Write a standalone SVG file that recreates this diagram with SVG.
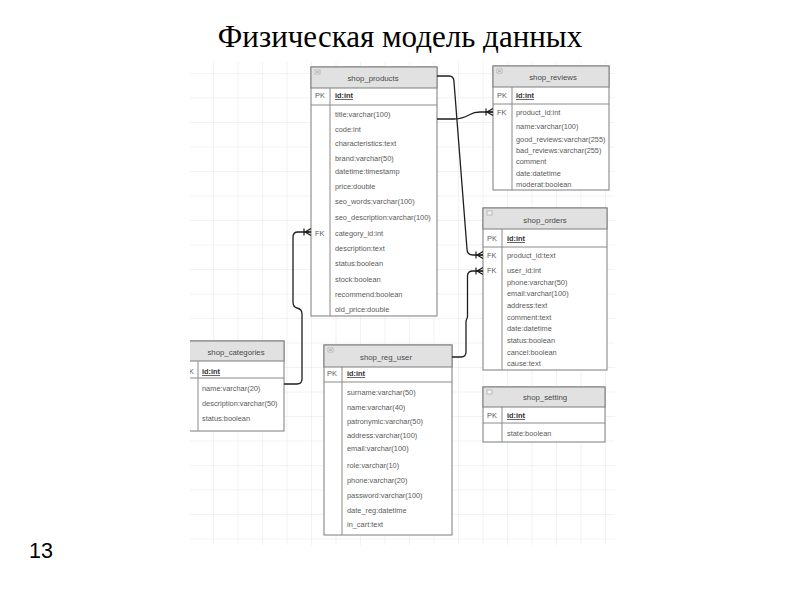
<svg xmlns="http://www.w3.org/2000/svg" width="800" height="600" viewBox="0 0 800 600">
<style>
.box{fill:#fff;stroke:#7d7d7d;stroke-width:1}
.hdr{fill:#e1e1e1;stroke:#7d7d7d;stroke-width:1}
.sep{stroke:#8a8a8a;stroke-width:1}
.t{font-family:"Liberation Sans",Arial,sans-serif;font-size:7.4px;fill:#5a5a5a}
.h{font-family:"Liberation Sans",Arial,sans-serif;font-size:7.8px;fill:#4a4a4a;text-anchor:middle}
.pk{font-family:"Liberation Sans",Arial,sans-serif;font-size:7.4px;fill:#333;text-decoration:underline;font-weight:bold}
.ic{fill:#f4f4f4;stroke:#9a9a9a;stroke-width:0.6}
.conn{fill:none;stroke:#1e1e1e;stroke-width:1.3;marker-end:url(#crow)}
</style>
<defs>
<pattern id="grid" patternUnits="userSpaceOnUse" x="213" y="73" width="24.5" height="24.5">
<path d="M0,0 V24.5 M0,0 H24.5" fill="none" stroke="#e6e6e6" stroke-width="1"/>
</pattern>
<marker id="crow" markerUnits="userSpaceOnUse" markerWidth="10" markerHeight="10" viewBox="0 0 10 10" refX="10" refY="5" orient="auto">
<path d="M10,1.5 L4,5 L10,8.5 M4,5 H10 M3,1.5 V8.5" fill="none" stroke="#1e1e1e" stroke-width="1.2"/>
</marker>
<clipPath id="clipL"><rect x="190" y="0" width="610" height="600"/></clipPath>
</defs>
<rect width="800" height="600" fill="#fff"/>
<rect x="190" y="62" width="425" height="483" fill="url(#grid)"/>
<text x="400" y="47" text-anchor="middle" font-family="Liberation Serif,'Times New Roman',serif" font-size="31" fill="#000">Физическая модель данных</text>
<text x="29" y="558" font-family="Liberation Sans,Arial,sans-serif" font-size="21.5" fill="#000">13</text>

<g id="shop_products">
<rect class="box" x="311" y="67" width="126" height="249"/>
<rect class="hdr" x="311" y="67" width="126" height="21"/>
<rect class="ic" x="315" y="70" width="5" height="4"/>
<line class="sep" x1="316" y1="72" x2="319" y2="72"/>
<text class="h" x="373" y="81">shop_products</text>
<line class="sep" x1="311" y1="105" x2="437" y2="105"/>
<line class="sep" x1="330" y1="88" x2="330" y2="316"/>
<text class="t" x="315" y="98">PK</text>
<text class="pk" x="335" y="98">id:int</text>
<text class="t" x="335" y="117">title:varchar(100)</text>
<text class="t" x="335" y="132">code:int</text>
<text class="t" x="335" y="146">characteristics:text</text>
<text class="t" x="335" y="161">brand:varchar(50)</text>
<text class="t" x="335" y="174">datetime:timestamp</text>
<text class="t" x="335" y="189">price:double</text>
<text class="t" x="335" y="204">seo_words:varchar(100)</text>
<text class="t" x="335" y="220">seo_description:varchar(100)</text>
<text class="t" x="315" y="236">FK</text>
<text class="t" x="335" y="236">category_id:int</text>
<text class="t" x="335" y="251">description:text</text>
<text class="t" x="335" y="266">status:boolean</text>
<text class="t" x="335" y="282">stock:boolean</text>
<text class="t" x="335" y="297">recommend:boolean</text>
<text class="t" x="335" y="312">old_price:double</text>
</g>

<g id="shop_reviews">
<rect class="box" x="493" y="66" width="116" height="124"/>
<rect class="hdr" x="493" y="66" width="116" height="21"/>
<rect class="ic" x="497" y="69" width="5" height="4"/>
<line class="sep" x1="498" y1="71" x2="501" y2="71"/>
<text class="h" x="553" y="80">shop_reviews</text>
<line class="sep" x1="493" y1="104" x2="609" y2="104"/>
<line class="sep" x1="512" y1="87" x2="512" y2="190"/>
<text class="t" x="497" y="98">PK</text>
<text class="pk" x="516" y="98">id:int</text>
<text class="t" x="497" y="115">FK</text>
<text class="t" x="516" y="115">product_id:int</text>
<text class="t" x="516" y="129">name:varchar(100)</text>
<text class="t" x="516" y="142">good_reviews:varchar(255)</text>
<text class="t" x="516" y="153">bad_reviews:varchar(255)</text>
<text class="t" x="516" y="164">comment</text>
<text class="t" x="516" y="176">date:datetime</text>
<text class="t" x="516" y="187">moderat:boolean</text>
</g>

<g id="shop_orders">
<rect class="box" x="483" y="208" width="124" height="162"/>
<rect class="hdr" x="483" y="208" width="124" height="21"/>
<rect class="ic" x="487" y="211" width="5" height="4"/>
<text class="h" x="545" y="223">shop_orders</text>
<line class="sep" x1="483" y1="247" x2="607" y2="247"/>
<line class="sep" x1="502" y1="229" x2="502" y2="370"/>
<text class="t" x="487" y="241">PK</text>
<text class="pk" x="507" y="241">id:int</text>
<text class="t" x="487" y="258">FK</text>
<text class="t" x="507" y="258">product_id:text</text>
<text class="t" x="487" y="273">FK</text>
<text class="t" x="507" y="273">user_id:int</text>
<text class="t" x="507" y="285">phone:varchar(50)</text>
<text class="t" x="507" y="296">email:varchar(100)</text>
<text class="t" x="507" y="308">address:text</text>
<text class="t" x="507" y="320">comment:text</text>
<text class="t" x="507" y="331">date:datetime</text>
<text class="t" x="507" y="343">status:boolean</text>
<text class="t" x="507" y="355">cancel:boolean</text>
<text class="t" x="507" y="366">cause:text</text>
</g>

<g id="shop_categories" clip-path="url(#clipL)">
<rect class="box" x="170" y="341" width="114" height="90"/>
<rect class="hdr" x="170" y="341" width="114" height="20"/>
<text class="h" x="236" y="355">shop_categories</text>
<line class="sep" x1="170" y1="378" x2="284" y2="378"/>
<line class="sep" x1="198" y1="361" x2="198" y2="431"/>
<text class="t" x="184" y="374">PK</text>
<text class="pk" x="202" y="374">id:int</text>
<text class="t" x="202" y="391">name:varchar(20)</text>
<text class="t" x="202" y="406">description:varchar(50)</text>
<text class="t" x="202" y="421">status:boolean</text>
</g>

<g id="shop_reg_user">
<rect class="box" x="324" y="345" width="128" height="190"/>
<rect class="hdr" x="324" y="345" width="128" height="22"/>
<rect class="ic" x="328" y="348" width="5" height="4"/>
<line class="sep" x1="329" y1="350" x2="332" y2="350"/>
<text class="h" x="386" y="360">shop_reg_user</text>
<line class="sep" x1="324" y1="382" x2="452" y2="382"/>
<line class="sep" x1="342" y1="367" x2="342" y2="535"/>
<text class="t" x="327" y="376">PK</text>
<text class="pk" x="347" y="376">id:int</text>
<text class="t" x="347" y="395">surname:varchar(50)</text>
<text class="t" x="347" y="410">name:varchar(40)</text>
<text class="t" x="347" y="424">patronymic:varchar(50)</text>
<text class="t" x="347" y="438">address:varchar(100)</text>
<text class="t" x="347" y="451">email:varchar(100)</text>
<text class="t" x="347" y="468">role:varchar(10)</text>
<text class="t" x="347" y="483">phone:varchar(20)</text>
<text class="t" x="347" y="498">password:varchar(100)</text>
<text class="t" x="347" y="513">date_reg:datetime</text>
<text class="t" x="347" y="527">in_cart:text</text>
</g>

<g id="shop_setting">
<rect class="box" x="483" y="387" width="122" height="55"/>
<rect class="hdr" x="483" y="387" width="122" height="20"/>
<rect class="ic" x="487" y="390" width="5" height="4"/>
<text class="h" x="545" y="400">shop_setting</text>
<line class="sep" x1="483" y1="423" x2="605" y2="423"/>
<line class="sep" x1="502" y1="407" x2="502" y2="442"/>
<text class="t" x="487" y="418">PK</text>
<text class="pk" x="507" y="418">id:int</text>
<text class="t" x="507" y="436">state:boolean</text>
</g>

<g id="connectors">
<path class="conn" d="M437,76 H449 Q454,76 454,82 L467,249 Q467,255 473,255 H483"/>
<path class="conn" d="M437,119 H454 Q462,119 470,114.5 Q474,112 480,112 H493"/>
<path class="conn" d="M452,357 H461 Q466,357 466,352 V321 L467.5,317 V276 Q467.5,271 473,271 H483"/>
<path class="conn" d="M284,384 H297 Q302,384 302,379 V314 Q302,309 297,308 Q293,307 293,302 V237 Q293,232 298,232 H311"/>
</g>
</svg>
